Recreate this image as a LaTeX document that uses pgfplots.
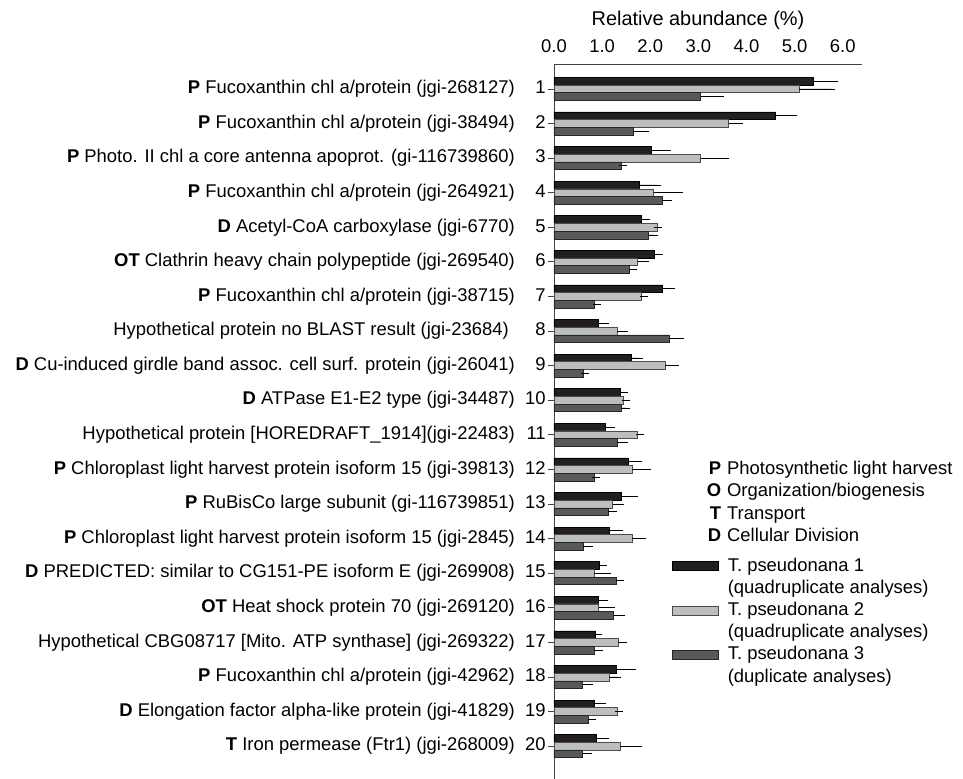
\documentclass[border=0pt]{standalone}
\usepackage{pgfplots}
\pgfplotsset{compat=1.18}
\usepackage{pgfplotstable}
\usepackage{fontspec}
\setmainfont{Liberation Sans}
\newcommand\lab{\fontsize{18.5}{22.5}\selectfont}
\definecolor{cA}{HTML}{231F20}
\definecolor{cB}{HTML}{BCBEC0}
\definecolor{cC}{HTML}{58595B}
\pgfplotstableread{
c v e
1 5.38 0.44
2 4.59 0.38
3 2.03 0.32
4 1.78 0.37
5 1.82 0.09
6 2.08 0.10
7 2.26 0.18
8 0.92 0.13
9 1.60 0.16
10 1.375 0.07
11 1.07 0.11
12 1.54 0.20
13 1.40 0.26
14 1.15 0.21
15 0.94 0.07
16 0.93 0.10
17 0.86 0.06
18 1.29 0.34
19 0.84 0.15
20 0.87 0.19
}\tA
\pgfplotstableread{
c v e
1 5.09 0.67
2 3.63 0.22
3 3.05 0.51
4 2.07 0.53
5 2.15 0.02
6 1.74 0.16
7 1.81 0.06
8 1.31 0.14
9 2.31 0.20
10 1.44 0.06
11 1.74 0.04
12 1.63 0.31
13 1.22 0.16
14 1.63 0.20
15 0.84 0.27
16 0.93 0.25
17 1.34 0.09
18 1.15 0.16
19 1.31 0.04
20 1.37 0.37
}\tB
\pgfplotstableread{
c v e
1 3.05 0.39
2 1.64 0.26
3 1.40 0.03
4 2.26 0.11
5 1.95 0.13
6 1.56 0.09
7 0.84 0.05
8 2.39 0.22
9 0.60 0.05
10 1.39 0.11
11 1.31 0.15
12 0.83 0.045
13 1.13 0.10
14 0.60 0.13
15 1.30 0.08
16 1.24 0.16
17 0.83 0.10
18 0.59 0.14
19 0.71 0.08
20 0.59 0.11
}\tC
\newcommand\nb[1]{\hspace{9bp}\makebox[22bp][r]{#1}}
\begin{document}
\begin{tikzpicture}[font=\lab]
\begin{axis}[
  scale only axis, width=308bp, height=715bp,
  xmin=0, xmax=6.4, ymin=0.28, ymax=20.95, y dir=reverse,
  axis x line*=top, axis y line*=left,
  axis line style={line width=0.8bp, black!75, -},
  clip=false,
  xtick={0,1,2,3,4,5,6},
  xticklabels={0.0,1.0,2.0,3.0,4.0,5.0,6.0},
  xtick style={draw=none},
  xticklabel style={yshift=2bp},
  major tick length=6bp, tick align=outside,
  ytick={1,...,20},
  ytick style={line width=0.8bp, black!75},
  yticklabel style={anchor=east, inner sep=0pt, xshift=-2bp},
  every tick label/.append style={font=\lab},
  /pgf/number format/assume math mode=true,
  yticklabels={
    {\textbf{P} Fucoxanthin chl a/protein (jgi-268127)\nb{1}},
    {\textbf{P} Fucoxanthin chl a/protein (jgi-38494)\nb{2}},
    {\textbf{P} Photo. II chl a core antenna apoprot. (gi-116739860)\nb{3}},
    {\textbf{P} Fucoxanthin chl a/protein (jgi-264921)\nb{4}},
    {\textbf{D} Acetyl-CoA carboxylase (jgi-6770)\nb{5}},
    {\textbf{OT} Clathrin heavy chain polypeptide (jgi-269540)\nb{6}},
    {\textbf{P} Fucoxanthin chl a/protein (jgi-38715)\nb{7}},
    {Hypothetical protein no BLAST result (jgi-23684)\hspace{6bp}\nb{8}},
    {\textbf{D} Cu-induced girdle band assoc. cell surf. protein (jgi-26041)\nb{9}},
    {\textbf{D} ATPase E1-E2 type (jgi-34487)\nb{10}},
    {Hypothetical protein [HOREDRAFT\_1914](jgi-22483)\nb{11}},
    {\textbf{P} Chloroplast light harvest protein isoform 15 (jgi-39813)\nb{12}},
    {\textbf{P} RuBisCo large subunit (gi-116739851)\nb{13}},
    {\textbf{P} Chloroplast light harvest protein isoform 15 (jgi-2845)\nb{14}},
    {\textbf{D} PREDICTED: similar to CG151-PE isoform E (jgi-269908)\nb{15}},
    {\textbf{OT} Heat shock protein 70 (jgi-269120)\nb{16}},
    {Hypothetical CBG08717 [Mito. ATP synthase] (jgi-269322)\nb{17}},
    {\textbf{P} Fucoxanthin chl a/protein (jgi-42962)\nb{18}},
    {\textbf{D} Elongation factor alpha-like protein (jgi-41829)\nb{19}},
    {\textbf{T} Iron permease (Ftr1) (jgi-268009)\nb{20}}
  },
  xlabel={Relative abundance (\%)},
  xlabel style={font=\fontsize{20}{24}\selectfont, xshift=-10bp, yshift=3bp},
  xbar, bar width=7.7bp,
  error bars/x dir=plus, error bars/x explicit,
  error bars/error bar style={line width=0.8bp, black},
  error bars/error mark options={mark size=4bp, line width=0.8bp, black},
  legend image code/.code={\draw[#1] (0bp,-4.6bp) rectangle (46bp,4.6bp);},
  legend style={at={(axis cs:2.452,14.53)}, anchor=north west, draw=none, fill=none,
    inner sep=0pt, row sep=4.2bp, column sep=9bp,
    nodes={inner sep=0pt, text height=14bp, text depth=4bp, font=\lab}},
  legend cell align=left,
]
\addplot[fill=cA, draw=black, line width=0.6bp, bar shift=7.7bp] table[x=v, y=c, x error=e] {\tA};
\addlegendentry{T. pseudonana 1}
\addlegendimage{empty legend}
\addlegendentry{(quadruplicate analyses)}
\addplot[fill=cB, draw=black!70, line width=0.6bp, bar shift=0bp] table[x=v, y=c, x error=e] {\tB};
\addlegendentry{T. pseudonana 2}
\addlegendimage{empty legend}
\addlegendentry{(quadruplicate analyses)}
\addplot[fill=cC, draw=black!85, line width=0.6bp, bar shift=-7.7bp] table[x=v, y=c, x error=e] {\tC};
\addlegendentry{T. pseudonana 3}
\addlegendimage{empty legend}
\addlegendentry{(duplicate analyses)}
\coordinate (tl) at (axis cs:0,0.28);
\node[anchor=north west, inner sep=0pt, font=\lab] at (axis cs:3.171,11.68)
  {\begin{tabular}{@{}r@{\hspace{6bp}}l@{}}
   \textbf{P} & Photosynthetic light harvest\\
   \textbf{O} & Organization/biogenesis\\
   \textbf{T} & Transport\\
   \textbf{D} & Cellular Division
   \end{tabular}};
\end{axis}
\pgfresetboundingbox
\path[use as bounding box] ([xshift=-554bp,yshift=64bp]tl) rectangle ([xshift=409bp,yshift=-715bp]tl);
\end{tikzpicture}
\end{document}
